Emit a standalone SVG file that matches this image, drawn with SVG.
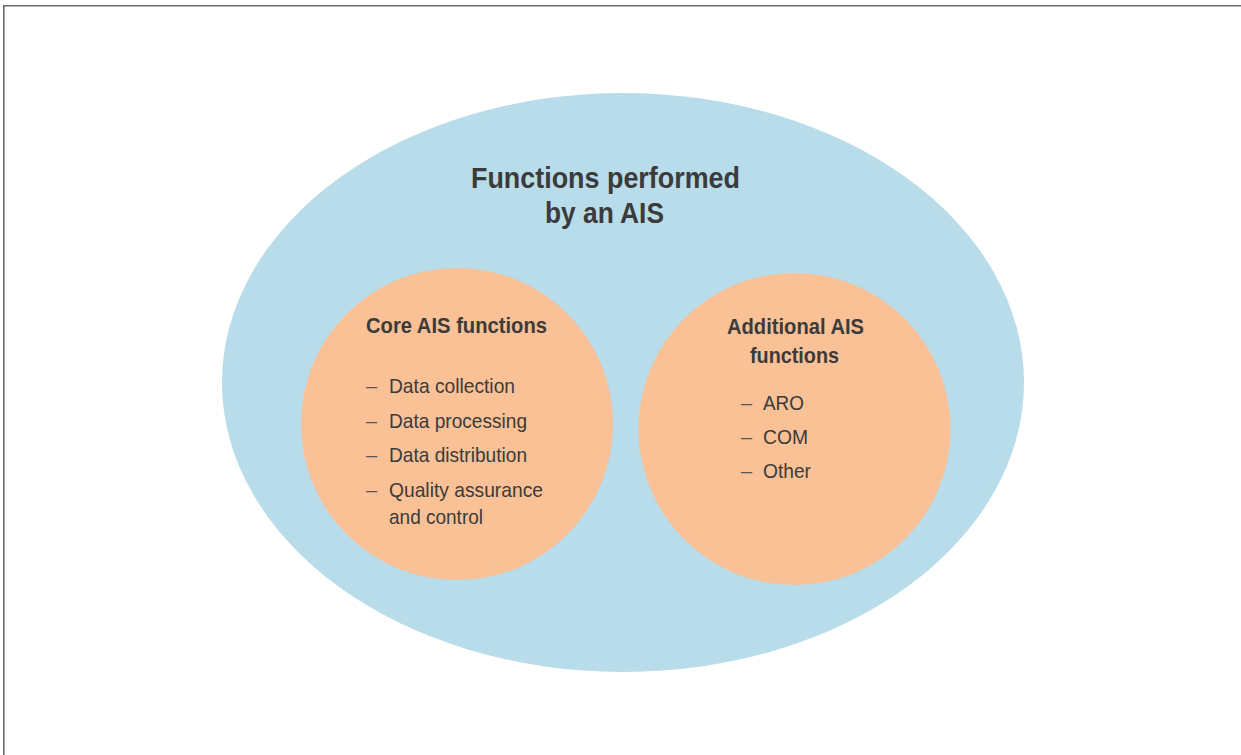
<svg xmlns="http://www.w3.org/2000/svg" width="1241" height="755" viewBox="0 0 1241 755">
<style>
.t{font-family:"Liberation Sans",Arial,sans-serif;fill:#3b3b3b}
.b{font-weight:bold}
.item{font-size:21px}
.dash{font-family:"Liberation Sans",Arial,sans-serif;font-size:20px;fill:#555}
</style>
<rect width="1241" height="755" fill="#fff"/>
<g id="frame">
<path d="M3.8 755 V5.8 H1241" fill="none" stroke="#6a6a6a" stroke-width="1.6"/>
</g>
<g id="outer">
<ellipse cx="623" cy="382.5" rx="401" ry="289.5" fill="#b8dce9"/>
<text class="t b" x="605.5" y="188" font-size="30" text-anchor="middle" textLength="269" lengthAdjust="spacingAndGlyphs">Functions performed</text>
<text class="t b" x="604.5" y="223" font-size="30" text-anchor="middle" textLength="119" lengthAdjust="spacingAndGlyphs">by an AIS</text>
</g>
<g id="core">
<circle cx="457" cy="424" r="156" fill="#f9c195"/>
<text class="t b" x="366" y="333" font-size="22" textLength="181" lengthAdjust="spacingAndGlyphs">Core AIS functions</text>
<text class="dash" x="366" y="393">–</text>
<text class="t item" x="389" y="393" textLength="126" lengthAdjust="spacingAndGlyphs">Data collection</text>
<text class="dash" x="366" y="428">–</text>
<text class="t item" x="389" y="428" textLength="138" lengthAdjust="spacingAndGlyphs">Data processing</text>
<text class="dash" x="366" y="462">–</text>
<text class="t item" x="389" y="462" textLength="138" lengthAdjust="spacingAndGlyphs">Data distribution</text>
<text class="dash" x="366" y="497">–</text>
<text class="t item" x="389" y="497" textLength="154" lengthAdjust="spacingAndGlyphs">Quality assurance</text>
<text class="t item" x="389" y="524" textLength="94" lengthAdjust="spacingAndGlyphs">and control</text>
</g>
<g id="additional">
<circle cx="794.5" cy="429" r="156" fill="#f9c195"/>
<text class="t b" x="795.5" y="334" font-size="22" text-anchor="middle" textLength="137" lengthAdjust="spacingAndGlyphs">Additional AIS</text>
<text class="t b" x="794.5" y="363" font-size="22" text-anchor="middle" textLength="89" lengthAdjust="spacingAndGlyphs">functions</text>
<text class="dash" x="741" y="410">–</text>
<text class="t item" x="763" y="410" textLength="41" lengthAdjust="spacingAndGlyphs">ARO</text>
<text class="dash" x="741" y="444">–</text>
<text class="t item" x="763" y="444" textLength="45" lengthAdjust="spacingAndGlyphs">COM</text>
<text class="dash" x="741" y="478">–</text>
<text class="t item" x="763" y="478" textLength="48" lengthAdjust="spacingAndGlyphs">Other</text>
</g>
<g id="connectors"/>
</svg>
